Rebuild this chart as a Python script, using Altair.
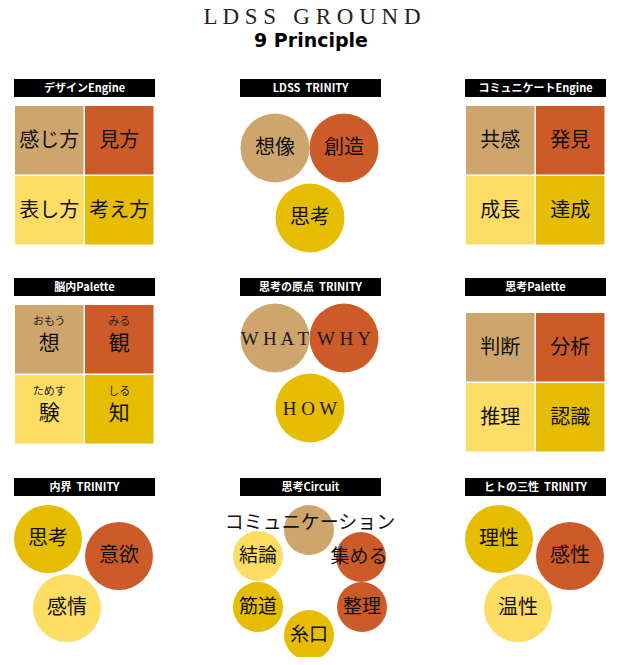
import altair as alt
import pandas as pd

# ---------------- data (texts) ----------------
TITLE = "L D S S\u00a0\u00a0\u00a0G R O U N D"
SUBTITLE = "9 Principle"
PANEL_TITLES = ["デザインEngine", "LDSS\u00a0\u00a0TRINITY", "コミュニケートEngine",
                "脳内Palette", "思考の原点\u00a0\u00a0TRINITY", "思考Palette",
                "内界\u00a0\u00a0TRINITY", "思考Circuit", "ヒトの三性\u00a0\u00a0TRINITY"]
design_engine = ["感じ方", "見方", "表し方", "考え方"]
communicate_engine = ["共感", "発見", "成長", "達成"]
thinking_palette = ["判断", "分析", "推理", "認識"]
brain_kanji = ["想", "観", "験", "知"]
brain_kana = ["おもう", "みる", "ためす", "しる"]
ldss_trinity = ["想像", "創造", "思考"]
origin_trinity = ["WHAT", "WHY", "HOW"]
inner_trinity = ["思考", "意欲", "感情"]
human_trinity = ["理性", "感性", "温性"]
circuit_top = "コミュニケーション"
circuit_steps = ["", "集める", "整理", "糸口", "筋道", "結論"]

# ---------------- styles / layout ----------------
TAN, ORANGE, LIGHT, GOLD = "#CFA56E", "#CD5B29", "#FDDD64", "#E6BD00"
GRID_COLORS = [TAN, ORANGE, LIGHT, GOLD]
HEADER_X = [14, 240, 465]
HEADER_Y = [79, 278, 478]
HEADER_W, HEADER_H = 141, 18
STEP, CELL = 70, 68.5
GRID_TOP = {0: 106, 2: 106, 3: 305, 5: 313}
TRI_Y = {1: 148, 4: 338}
TRI_OFF = [(-35, 0), (34, 0), (0, 70)]
TRI_COLORS = [TAN, ORANGE, GOLD]
TRI_R = 34.5
TRI2_OFF = [(34, 61), (105, 78), (53, 130)]
TRI2_COLORS = [GOLD, ORANGE, LIGHT]
TRI2_R = 34
CIRC_C = (310, 582)
CIRC_OFF = [(-1, -52), (51, -25), (52, 25), (-1, 53), (-52, 25), (-52, -26)]
CIRC_COLORS = [TAN, ORANGE, ORANGE, GOLD, GOLD, LIGHT]
CIRC_R = 25


def sym_size(r):
    # Vega symbol size is the area of the bounding square
    return (2 * r) ** 2


rects, circles = [], []
txt_cjk, txt_serif, txt_head = [], [], []

# headers
for i, t in enumerate(PANEL_TITLES):
    c, r = i % 3, i // 3
    x0, y0 = HEADER_X[c], HEADER_Y[r]
    rects.append(dict(x=x0, x2=x0 + HEADER_W, y=y0, y2=y0 + HEADER_H, color="#000000"))
    txt_head.append(dict(x=x0 + HEADER_W / 2, y=y0 + HEADER_H / 2 + 0.5, t=t))

# grid panels
for p, labels in [(0, design_engine), (2, communicate_engine), (5, thinking_palette), (3, None)]:
    left = HEADER_X[p % 3] + 1
    top = GRID_TOP[p]
    for k in range(4):
        cx0 = left + (k % 2) * STEP
        cy0 = top + (k // 2) * STEP
        rects.append(dict(x=cx0, x2=cx0 + CELL, y=cy0, y2=cy0 + CELL, color=GRID_COLORS[k]))
        mx, my = cx0 + CELL / 2, cy0 + CELL / 2
        if labels is not None:
            txt_cjk.append(dict(x=mx, y=my + 1, t=labels[k], s=20, c="#111111"))
        else:
            txt_cjk.append(dict(x=mx, y=my - 17.5, t=brain_kana[k], s=11, c="#222222"))
            txt_cjk.append(dict(x=mx, y=my + 5, t=brain_kanji[k], s=21, c="#111111"))

# LDSS trinity / origin trinity
for p, labels in [(1, ldss_trinity), (4, origin_trinity)]:
    for k in range(3):
        cx = 310 + TRI_OFF[k][0]
        cy = TRI_Y[p] + TRI_OFF[k][1]
        circles.append(dict(x=cx, y=cy, size=sym_size(TRI_R), color=TRI_COLORS[k]))
        if p == 1:
            txt_cjk.append(dict(x=cx, y=cy, t=labels[k], s=20, c="#111111"))
        else:
            txt_serif.append(dict(x=cx, y=cy + 1, t=" ".join(labels[k]), s=19))

# inner / human trinity
for p, labels in [(6, inner_trinity), (8, human_trinity)]:
    x0, y0 = HEADER_X[p % 3], HEADER_Y[p // 3]
    for k in range(3):
        cx, cy = x0 + TRI2_OFF[k][0], y0 + TRI2_OFF[k][1]
        circles.append(dict(x=cx, y=cy, size=sym_size(TRI2_R), color=TRI2_COLORS[k]))
        txt_cjk.append(dict(x=cx, y=cy, t=labels[k], s=20, c="#111111"))

# circuit
for k in range(6):
    cx, cy = CIRC_C[0] + CIRC_OFF[k][0], CIRC_C[1] + CIRC_OFF[k][1]
    circles.append(dict(x=cx, y=cy, size=sym_size(CIRC_R), color=CIRC_COLORS[k]))
    if circuit_steps[k]:
        txt_cjk.append(dict(x=cx - (2 if k == 1 else 0), y=cy, t=circuit_steps[k], s=19, c="#111111"))
txt_cjk.append(dict(x=CIRC_C[0], y=523, t=circuit_top, s=19, c="#111111"))

xs = alt.Scale(domain=[8, 613], nice=False, zero=False)
ys = alt.Scale(domain=[8, 657], nice=False, zero=False, reverse=True)
X = lambda f: alt.X(f, scale=xs, axis=None)
Y = lambda f: alt.Y(f, scale=ys, axis=None)

rect_layer = alt.Chart(pd.DataFrame(rects)).mark_rect().encode(
    x=X("x:Q"), x2="x2", y=Y("y:Q"), y2="y2",
    color=alt.Color("color:N", scale=None))

circle_layer = alt.Chart(pd.DataFrame(circles)).mark_circle(opacity=1).encode(
    x=X("x:Q"), y=Y("y:Q"),
    size=alt.Size("size:Q", scale=None),
    color=alt.Color("color:N", scale=None))

cjk_layer = alt.Chart(pd.DataFrame(txt_cjk)).mark_text(
    font="Noto Sans CJK JP", baseline="middle", align="center").encode(
    x=X("x:Q"), y=Y("y:Q"), text="t:N",
    size=alt.Size("s:Q", scale=None),
    color=alt.Color("c:N", scale=None))

serif_layer = alt.Chart(pd.DataFrame(txt_serif)).mark_text(
    font="Liberation Serif", baseline="middle", align="center", color="#1a1a1a", fontSize=19).encode(
    x=X("x:Q"), y=Y("y:Q"), text="t:N")

head_layer = alt.Chart(pd.DataFrame(txt_head)).mark_text(
    font="Noto Sans CJK JP", fontWeight="bold", baseline="middle", align="center",
    color="white", fontSize=11).encode(
    x=X("x:Q"), y=Y("y:Q"), text="t:N")

title_df = pd.DataFrame([dict(x=312, y=23.5, t=TITLE)])
title_layer = alt.Chart(title_df).mark_text(
    font="Liberation Serif", fontSize=23, baseline="alphabetic", align="center", color="#222222").encode(
    x=X("x:Q"), y=Y("y:Q"), text="t:N")

sub_df = pd.DataFrame([dict(x=311, y=40.5, t=SUBTITLE)])
sub_layer = alt.Chart(sub_df).mark_text(
    font="DejaVu Sans", fontWeight="bold", fontSize=19, baseline="middle", align="center", color="#000000").encode(
    x=X("x:Q"), y=Y("y:Q"), text="t:N")

chart = alt.layer(rect_layer, circle_layer, cjk_layer, serif_layer, head_layer,
                  title_layer, sub_layer).properties(
    width=605, height=649, padding=0, autosize="none", background="white"
).configure_view(stroke=None)

chart.save("out.html", embed_options={"renderer": "svg", "actions": False})
